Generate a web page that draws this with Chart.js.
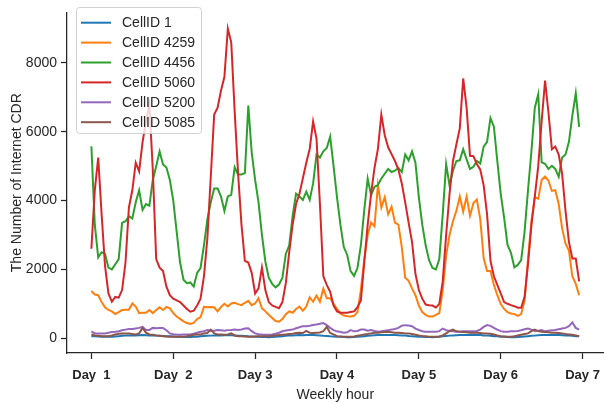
<!DOCTYPE html>
<html><head><meta charset="utf-8">
<script src="https://cdn.jsdelivr.net/npm/chart.js@4.4.1/dist/chart.umd.min.js"></script>
<style>html,body{margin:0;padding:0;background:#fff;}#c{display:block;}</style>
</head><body>
<canvas id="c" width="609" height="404"></canvas>
<script>
// ---- data ----
const dayTicks = [0, 24, 48, 72, 96, 120, 144];
const dayLabels = ['Day  1', 'Day  2', 'Day 3', 'Day 4', 'Day 5', 'Day 6', 'Day 7'];
const yTicks = [0, 2000, 4000, 6000, 8000];
const seriesNames = ['CellID 1', 'CellID 4259', 'CellID 4456', 'CellID 5060', 'CellID 5200', 'CellID 5085'];

const cell1 = [
 60,55,50,45,40,40,45,50,60,70,75,80,85,80,85,90,85,80,80,75,70,65,60,55,
 50,45,40,35,35,35,40,45,55,65,70,75,80,85,80,85,90,85,80,75,70,65,55,50,
 45,40,35,35,30,35,40,50,60,70,75,80,85,90,85,90,95,90,85,80,70,65,55,50,
 45,40,35,30,30,35,40,50,60,70,80,85,90,90,95,90,95,90,85,80,75,65,60,50,
 45,40,35,35,30,35,45,55,65,75,80,85,90,95,90,95,100,95,90,80,75,70,60,55,
 45,40,35,30,30,35,40,50,60,70,75,85,90,90,95,90,95,90,85,80,75,70,60,55];
const cell4259 = [
 1370,1270,1250,1050,900,820,780,700,760,820,830,830,1010,920,730,740,740,820,730,820,900,820,910,870,
 730,630,560,490,440,415,445,560,610,910,900,910,900,780,910,1000,920,1010,1030,990,960,1030,1085,960,
 1010,1160,870,780,680,590,500,480,560,700,780,740,850,920,800,920,1190,1060,1240,1060,1440,1160,1160,1000,
 850,720,660,640,630,650,760,1400,2300,3000,3360,3250,4450,3800,4100,3600,3820,3360,3300,2650,1760,1670,1450,1250,
 950,760,680,630,630,680,730,1400,2400,3000,3400,3700,4120,3680,4120,3560,3930,4030,3460,2330,1950,1950,1550,1250,
 1000,850,760,720,700,650,700,1100,2300,3400,4100,4050,4600,4700,4580,4280,4300,3900,3200,2750,2550,1800,1580,1250];
const cell4456 = [
 5580,3300,2350,2500,2450,2050,2000,2150,2300,3350,3400,3550,3480,3950,4300,3730,3900,3850,4600,5000,5430,5050,4960,4600,
 4000,3100,2200,1700,1600,1620,1500,1900,2040,2700,3450,3950,4350,4350,4120,3700,4120,4170,4970,4760,4760,4800,6760,5400,
 4600,3950,3000,2230,1760,1580,1480,1560,1760,2450,2700,3550,4200,4120,4020,4260,4020,4500,5340,5250,5430,5530,5860,5000,
 4100,3300,2650,2420,1950,1810,2040,2700,3730,4640,4160,4400,4450,4640,4780,4920,4830,4870,4950,4830,5340,5170,5430,5100,
 4100,3300,2700,2270,2040,2000,2300,3600,5060,4440,4870,5150,5170,5490,5200,4920,4980,5150,5080,5570,5710,6400,6150,5150,
 4200,3500,2710,2480,2060,2130,2270,3100,4300,5430,6700,7090,5110,5070,4920,5010,4920,4690,5250,5340,5710,6470,7120,6140];
const cell5060 = [
 2600,4300,5250,3600,2100,1300,1060,1200,1180,1400,2200,3800,4300,5100,4850,5700,6300,6800,4900,2300,2050,1950,1500,1250,
 1150,1100,1050,950,850,770,800,950,1150,1800,2900,4700,6500,6700,7200,7600,9000,8600,6600,4800,3300,2250,2200,1900,
 1300,1450,2050,1400,1050,950,910,870,1050,1600,2500,3300,3900,4200,4650,5100,5500,6300,5800,3900,1800,1550,1350,950,
 780,740,740,740,760,780,900,1100,2200,3300,4200,4950,5500,6500,5900,5550,5350,5150,4900,4500,3950,3360,2800,1870,
 1400,1150,980,960,950,890,1000,1650,3000,4200,5150,5630,6100,7550,6700,5300,5290,5060,4900,4450,3600,2250,1800,1550,
 1300,1050,1000,960,930,885,885,1200,2150,3270,4120,5000,6300,7490,6560,5490,5570,5340,4780,3700,2800,2320,2320,1650];
const cell5200 = [
 200,140,140,140,140,160,180,190,205,230,250,270,265,285,300,330,240,240,300,290,300,300,230,140,
 115,105,100,105,110,110,130,160,190,205,235,220,215,235,230,215,235,240,250,240,255,280,290,205,
 140,115,105,100,100,110,130,160,200,225,240,250,290,320,350,350,360,385,400,420,440,380,300,235,
 200,180,160,170,235,200,210,250,250,215,235,210,190,200,215,235,250,270,300,365,380,370,350,280,
 240,205,190,185,185,190,205,280,235,210,200,190,195,205,205,200,205,210,250,330,380,360,300,250,
 205,190,185,200,205,210,230,260,280,250,210,220,235,200,220,230,240,260,280,300,350,460,300,250];
const cell5085 = [
 110,80,70,60,60,60,80,110,130,140,140,140,120,110,140,300,160,110,100,80,70,60,50,40,
 40,40,40,45,60,80,100,110,110,140,150,250,140,110,105,100,110,140,80,60,60,50,40,45,
 50,55,55,60,60,70,80,90,100,110,120,130,150,160,150,210,160,150,160,165,205,330,150,110,
 60,50,40,40,40,50,70,90,110,120,140,160,160,170,180,190,175,160,160,150,140,140,120,100,
 80,65,60,45,40,40,50,80,140,210,250,200,185,180,170,160,160,160,150,140,140,130,110,80,
 60,50,40,45,60,80,100,120,140,205,250,205,185,180,170,160,160,150,140,120,110,100,80,60];

const seriesValues = [cell1, cell4259, cell4456, cell5060, cell5200, cell5085];
const colors = ['#1f77b4', '#ff7f0e', '#2ca02c', '#d62728', '#9467bd', '#8c564b'];

// ---- chart ----
const FONT = "'Liberation Sans', Arial, Helvetica, sans-serif";
const TXT = '#262626';

const datasets = seriesValues.map((vals, i) => ({
  label: seriesNames[i],
  data: vals.map((v, h) => ({ x: h, y: v })),
  borderColor: colors[i],
  backgroundColor: colors[i],
  borderWidth: 2,
  pointRadius: 0,
  tension: 0,
  fill: false,
  order: 10 - i
}));

const insideLegend = {
  id: 'insideLegend',
  afterDraw(chart) {
    const ctx = chart.ctx;
    const x0 = 76, y0 = 7, w = 125, h = 126;
    ctx.save();
    ctx.beginPath();
    if (ctx.roundRect) ctx.roundRect(x0 + 0.5, y0 + 0.5, w, h, 3); else ctx.rect(x0 + 0.5, y0 + 0.5, w, h);
    ctx.fillStyle = 'rgba(255,255,255,0.8)';
    ctx.fill();
    ctx.strokeStyle = 'rgba(204,204,204,0.9)';
    ctx.lineWidth = 1;
    ctx.stroke();
    ctx.font = '14px ' + FONT;
    ctx.textBaseline = 'middle';
    ctx.textAlign = 'left';
    chart.data.datasets.forEach((ds, i) => {
      const yy = 22.7 + i * 19.9;
      ctx.beginPath();
      ctx.moveTo(81, yy);
      ctx.lineTo(111, yy);
      ctx.strokeStyle = ds.borderColor;
      ctx.lineWidth = 2;
      ctx.stroke();
      ctx.fillStyle = TXT;
      ctx.fillText(ds.label, 122, yy + 0.5);
    });
    ctx.restore();
  }
};

new Chart(document.getElementById('c'), {
  type: 'line',
  data: { datasets },
  options: {
    responsive: false,
    animation: false,
    devicePixelRatio: 1,
    layout: { padding: { top: 4, right: 2, left: 0, bottom: 0 } },
    plugins: { legend: { display: false }, tooltip: { enabled: false } },
    scales: {
      x: {
        type: 'linear', min: -7.15, max: 150.15,
        afterBuildTicks: s => { s.ticks = dayTicks.map(v => ({ value: v })); },
        ticks: {
          autoSkip: false, maxRotation: 0, minRotation: 0,
          callback: v => dayLabels[dayTicks.indexOf(v)],
          font: { family: FONT, size: 13, weight: 'bold' }, color: TXT, padding: 9
        },
        grid: { display: true, drawOnChartArea: false, drawTicks: true, tickLength: 6, tickWidth: 1.25, tickColor: TXT },
        border: { display: true, color: TXT, width: 1.25 },
        title: { display: true, text: 'Weekly hour', font: { family: FONT, size: 14 }, color: TXT, padding: { top: 0, bottom: 0 } },
        afterFit: s => { s.height = 51; }
      },
      y: {
        type: 'linear', min: -430, max: 9470,
        afterBuildTicks: s => { s.ticks = yTicks.map(v => ({ value: v })); },
        ticks: { callback: v => String(v), font: { family: FONT, size: 14 }, color: TXT, padding: 4 },
        grid: { display: true, drawOnChartArea: false, drawTicks: true, tickLength: 6, tickWidth: 1.25, tickColor: TXT },
        border: { display: true, color: TXT, width: 1.25 },
        title: { display: true, text: 'The Number of Internet CDR', font: { family: FONT, size: 14 }, color: TXT, padding: { top: 9, bottom: 0 } },
        afterFit: s => { s.width = 67; }
      }
    }
  },
  plugins: [insideLegend]
});
</script>
</body></html>
